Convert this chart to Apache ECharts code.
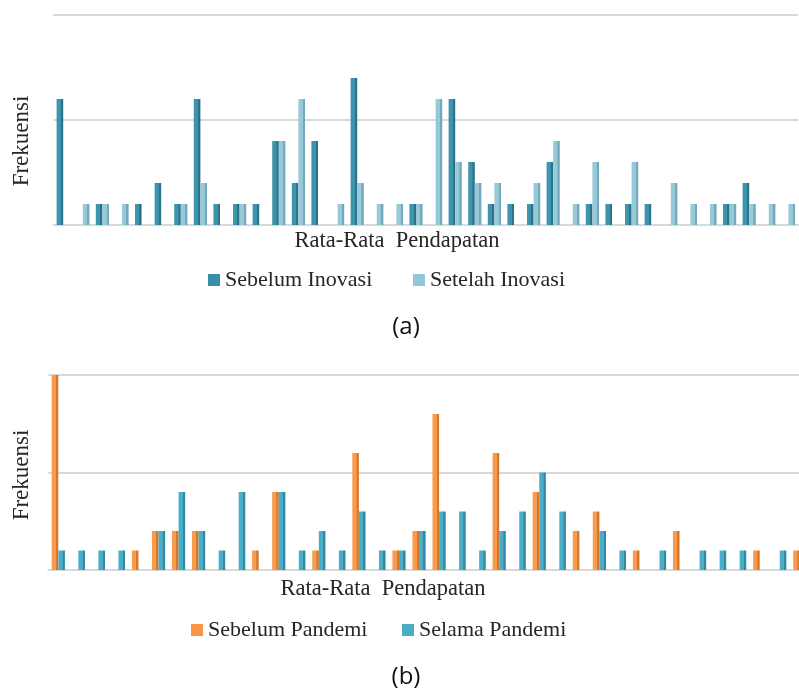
<!DOCTYPE html>
<html>
<head>
<meta charset="utf-8">
<script src="https://cdn.jsdelivr.net/npm/echarts@6/dist/echarts.min.js"></script>
<style>
html,body{margin:0;padding:0;background:#fff;}
#chart{width:799px;height:693px;}
</style>
</head>
<body>
<div id="chart"></div>
<script>
// categories (income groups, unlabeled in the reference)
var categories = ['1','2','3','4','5','6','7','8','9','10','11','12','13','14','15','16','17','18','19','20','21','22','23','24','25','26','27','28','29','30','31','32','33','34','35','36','37','38'];

// panel (a)
var sebelumInovasi = [6,0,1,0,1,2,1,6,1,1, 1,4,2,4,0,7,0,0,1,0, 6,3,1,1,1,3,0,1,1,1, 1,0,0,0,1,2,0,0];
var setelahInovasi = [0,1,1,1,0,0,1,2,0,1, 0,4,6,0,1,2,1,1,1,6, 3,2,2,0,2,4,1,3,0,3, 0,2,1,1,1,1,1,1];

// panel (b)
var sebelumPandemi = [10,0,0,0,1,2,2,2,0,0, 1,4,0,1,0,6,0,1,2,8, 0,0,6,0,4,0,2,3,0,1, 0,2,0,0,0,1,0,1];
var selamaPandemi  = [1,1,1,1,0,2,4,2,1,4, 0,4,1,2,1,3,1,1,2,3, 3,1,2,3,5,3,0,2,1,0, 1,0,1,1,1,0,1,1];

var yTicks = {min:0, max:10, interval:5};

function grad(front, side){
  return new echarts.graphic.LinearGradient(0,0,1,0,[
    {offset:0, color:front},{offset:0.62, color:front},
    {offset:0.68, color:side},{offset:1, color:side}
  ]);
}
var serif = '"Liberation Serif", "DejaVu Serif", serif';
var gridLine = {show:true, lineStyle:{color:'#d9d9d9', width:2}};
var legendText = {fontFamily:serif, fontSize:22, color:'#262626'};
function legendItem(name, color, left, top){
  return {data:[{name:name, itemStyle:{color:color}}], left:left, top:top,
          itemWidth:12, itemHeight:12, icon:'rect', textStyle:legendText};
}

var chart = echarts.init(document.getElementById('chart'));
chart.setOption({
  animation:false,
  backgroundColor:'#ffffff',
  grid:[
    {left:53.4, top:15, right:0.8, height:210, containLabel:false, outerBoundsMode:'none'},
    {left:48.3, top:375, right:-10.8, height:195, containLabel:false, outerBoundsMode:'none'}
  ],
  xAxis:[
    {type:'category', gridIndex:0, data:categories, axisLine:gridLine, axisTick:{show:false}, axisLabel:{show:false}},
    {type:'category', gridIndex:1, data:categories, axisLine:gridLine, axisTick:{show:false}, axisLabel:{show:false}}
  ],
  yAxis:[
    {type:'value', gridIndex:0, min:yTicks.min, max:yTicks.max, interval:yTicks.interval, axisLine:{show:false}, axisTick:{show:false}, axisLabel:{show:false}, splitLine:gridLine},
    {type:'value', gridIndex:1, min:yTicks.min, max:yTicks.max, interval:yTicks.interval, axisLine:{show:false}, axisTick:{show:false}, axisLabel:{show:false}, splitLine:gridLine}
  ],
  legend:[
    legendItem('Sebelum Inovasi', '#3a8fa8', 203, 264),
    legendItem('Setelah Inovasi', '#93c6d6', 408, 264),
    legendItem('Sebelum Pandemi', '#f79646', 186, 614),
    legendItem('Selama Pandemi', '#4bacc6', 397, 614)
  ],
  graphic:[
    {type:'text', x:22, y:141, rotation:Math.PI/2, style:{text:'Frekuensi', font:'23px '+serif, fill:'#262626', align:'center', verticalAlign:'middle'}},
    {type:'text', x:22, y:475, rotation:Math.PI/2, style:{text:'Frekuensi', font:'23px '+serif, fill:'#262626', align:'center', verticalAlign:'middle'}},
    {type:'text', x:397, y:241, style:{text:'Rata-Rata  Pendapatan', font:'22.5px '+serif, fill:'#262626', align:'center', verticalAlign:'middle'}},
    {type:'text', x:383, y:589, style:{text:'Rata-Rata  Pendapatan', font:'22.5px '+serif, fill:'#262626', align:'center', verticalAlign:'middle'}},
    {type:'text', x:406, y:327, style:{text:'(a)', font:'24px "Open Sans", sans-serif', fill:'#111', align:'center', verticalAlign:'middle'}},
    {type:'text', x:406, y:677, style:{text:'(b)', font:'24px "Open Sans", sans-serif', fill:'#111', align:'center', verticalAlign:'middle'}}
  ],
  series:[
    {name:'Sebelum Inovasi', type:'bar', xAxisIndex:0, yAxisIndex:0, data:sebelumInovasi, barWidth:6.6, barGap:'0%',
     itemStyle:{color:grad('#3f94ad','#2a7489')}},
    {name:'Setelah Inovasi', type:'bar', xAxisIndex:0, yAxisIndex:0, data:setelahInovasi, barWidth:6.6, barGap:'0%',
     itemStyle:{color:grad('#97c9d9','#74a9bb')}},
    {name:'Sebelum Pandemi', type:'bar', xAxisIndex:1, yAxisIndex:1, data:sebelumPandemi, barWidth:6.6, barGap:'0%',
     itemStyle:{color:grad('#f99a4c','#d4782f')}},
    {name:'Selama Pandemi', type:'bar', xAxisIndex:1, yAxisIndex:1, data:selamaPandemi, barWidth:6.6, barGap:'0%',
     itemStyle:{color:grad('#4badc7','#2f8aa2')}}
  ]
});
</script>
</body>
</html>
